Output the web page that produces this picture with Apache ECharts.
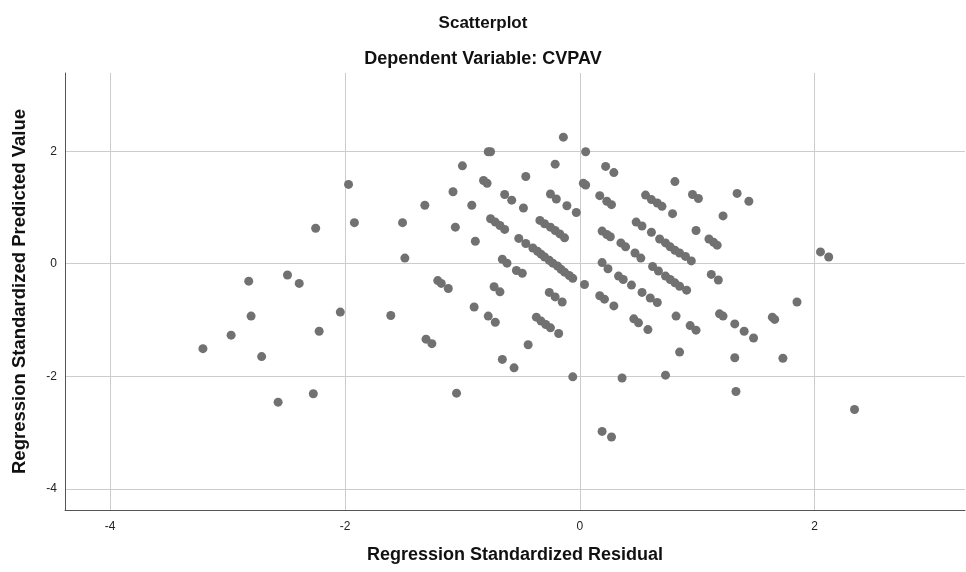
<!DOCTYPE html>
<html>
<head>
<meta charset="utf-8">
<title>Scatterplot</title>
<script src="https://cdn.jsdelivr.net/npm/echarts@6/dist/echarts.min.js"></script>
<style>
  html, body { margin: 0; padding: 0; background: #ffffff; }
  #chart { width: 966px; height: 572px; }
</style>
</head>
<body>
<div id="chart"></div>
<script>
// Regression standardized residuals (x) and standardized predicted values (y)
const residuals = [
  -3.21, -2.97, -2.82, -2.80, -2.71, -2.57, -2.49, -2.39, -2.27, -2.25,
  -2.22, -2.04, -1.97, -1.92, -1.61, -1.51, -1.49, -1.32, -1.31, -1.26,
  -1.21, -1.18, -1.12, -1.08, -1.06, -1.05, -1.00, -0.92, -0.90, -0.89,
  -0.82, -0.79, -0.78, -0.76, -0.78, -0.72, -0.76, -0.72, -0.68, -0.64,
  -0.73, -0.68, -0.66, -0.62, -0.66, -0.64, -0.58, -0.56, -0.54, -0.49,
  -0.52, -0.46, -0.48, -0.46, -0.44,
  -0.40, -0.36, -0.33, -0.30, -0.26, -0.23, -0.19, -0.16, -0.13, -0.09, -0.06,
  -0.37, -0.33, -0.29, -0.25,
  -0.34, -0.30, -0.25, -0.21, -0.17, -0.13,
  -0.26, -0.21, -0.15, -0.25, -0.20, -0.21, -0.18, -0.14, -0.11, -0.06,
  -0.03, 0.03, 0.05, 0.05, 0.04, 0.17, 0.23, 0.27, 0.19, 0.23,
  0.26, 0.19, 0.24, 0.17, 0.21, 0.29, 0.19, 0.27, 0.22, 0.29,
  0.33, 0.37, 0.44, 0.53, 0.60, 0.66, 0.35, 0.39, 0.36, 0.47,
  0.52, 0.48, 0.53, 0.61, 0.46, 0.50, 0.58,
  0.56, 0.61, 0.66, 0.70, 0.62, 0.67,
  0.68, 0.73, 0.77, 0.81, 0.85, 0.90, 0.95,
  0.73, 0.77, 0.81, 0.85, 0.91,
  0.73, 0.79, 0.81, 0.82, 0.85, 0.94, 0.99, 0.96, 1.01, 0.99,
  1.10, 1.14, 1.17, 1.12, 1.18, 1.19, 1.22, 1.22, 1.32, 1.32,
  1.33, 1.34, 1.40, 1.44, 1.48, 1.64, 1.66, 1.73, 1.85, 2.05,
  2.12, 2.34
];
const predicted = [
  -1.51, -1.27, -0.31, -0.93, -1.65, -2.46, -0.20, -0.35, -2.31, 0.63,
  -1.20, -0.86, 1.41, 0.73, -0.92, 0.73, 0.10, 1.04, -1.34, -1.42,
  -0.30, -0.35, -0.44, 1.28, 0.65, -2.30, 1.74, 1.04, -0.77, 0.40,
  1.48, 1.43, 1.99, 1.99, -0.93, -1.04, 0.80, 0.74, 0.68, 0.61,
  -0.41, -0.50, 0.08, 0.01, -1.70, 1.23, 1.13, -1.85, -0.12, -0.17,
  0.45, 0.36, 0.99, 1.55, -1.44,
  0.28, 0.22, 0.17, 0.12, 0.06, 0.01, -0.04, -0.10, -0.15, -0.21, -0.26,
  -0.95, -1.02, -1.08, -1.14,
  0.77, 0.71, 0.65, 0.59, 0.53, 0.46,
  -0.51, -0.59, -0.68, 1.24, 1.15, 1.77, -1.24, 2.25, 1.03, -2.01,
  0.91, 1.43, 1.40, 1.99, -0.37, 1.21, 1.11, 1.05, 0.58, 0.52,
  0.48, 0.02, -0.09, -0.57, -0.63, -0.75, -2.98, -3.08, 1.73, 1.62,
  -0.22, -0.28, -0.38, -0.51, -0.61, -0.69, 0.37, 0.30, -2.03, 0.19,
  0.10, 0.74, 0.67, 0.56, -0.98, -1.05, -1.17,
  1.22, 1.14, 1.08, 1.02, -0.05, -0.13,
  0.44, 0.37, 0.30, 0.24, 0.19, 0.13, 0.05,
  -0.22, -0.28, -0.34, -0.40, -0.47,
  -1.98, 0.89, 1.46, -0.93, -1.57, -1.10, -1.18, 1.23, 1.16, 0.59,
  0.44, 0.38, 0.33, -0.19, -0.29, -0.89, -0.93, 0.85, -1.07, -1.67,
  -2.27, 1.25, -1.20, 1.11, -1.32, -0.95, -0.99, -1.68, -0.68, 0.21,
  0.12, -2.59
];

// Axis ranges and labelled tick positions
const xRange = [-4.385, 3.281];
const yRange = [-4.377, 3.39];
const xTicks = [-4, -2, 0, 2];
const yTicks = [-4, -2, 0, 2];

const points = residuals.map((r, i) => [r, predicted[i]]);

const font = 'Liberation Sans, Arial, sans-serif';
const gridColor = '#cccccc';
const axisColor = '#555555';

const chart = echarts.init(document.getElementById('chart'), null, { renderer: 'canvas' });

chart.setOption({
  animation: false,
  backgroundColor: '#ffffff',
  title: [
    {
      text: 'Scatterplot',
      left: 'center',
      top: 10,
      textStyle: { fontFamily: font, fontSize: 17, fontWeight: 'bold', color: '#111111' }
    },
    {
      text: 'Dependent Variable: CVPAV',
      left: 'center',
      top: 45,
      textStyle: { fontFamily: font, fontSize: 18, fontWeight: 'bold', color: '#111111' }
    }
  ],
  grid: { left: 65, right: 1, top: 73, bottom: 62, containLabel: false },
  xAxis: {
    type: 'value',
    min: xRange[0],
    max: xRange[1],
    name: 'Regression Standardized Residual',
    nameLocation: 'middle',
    nameGap: 36,
    nameTextStyle: { fontFamily: font, fontSize: 18, fontWeight: 'bold', color: '#111111' },
    axisLine: { show: true, onZero: false, lineStyle: { color: axisColor, width: 1 } },
    axisTick: { show: false, customValues: xTicks },
    axisLabel: {
      customValues: xTicks,
      fontFamily: font, fontSize: 12, color: '#222222', margin: 11
    },
    splitLine: { show: true, lineStyle: { color: gridColor, width: 1 } }
  },
  yAxis: {
    type: 'value',
    min: yRange[0],
    max: yRange[1],
    name: 'Regression Standardized Predicted Value',
    nameLocation: 'middle',
    nameGap: 36,
    nameTextStyle: { fontFamily: font, fontSize: 18.5, fontWeight: 'bold', color: '#111111' },
    axisLine: { show: true, onZero: false, lineStyle: { color: axisColor, width: 1 } },
    axisTick: { show: false, customValues: yTicks },
    axisLabel: {
      customValues: yTicks,
      fontFamily: font, fontSize: 12, color: '#222222', margin: 8
    },
    splitLine: { show: true, lineStyle: { color: gridColor, width: 1 } }
  },
  series: [
    {
      type: 'scatter',
      data: points,
      symbol: 'circle',
      symbolSize: 9,
      itemStyle: { color: '#717171', opacity: 1 },
      emphasis: { disabled: true }
    }
  ]
});
</script>
</body>
</html>
